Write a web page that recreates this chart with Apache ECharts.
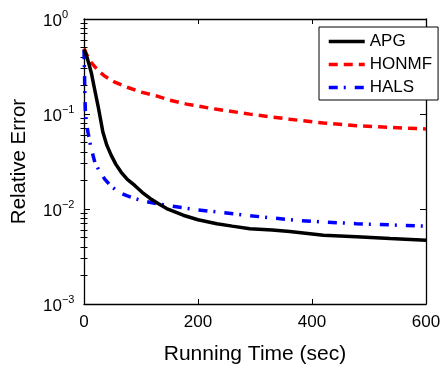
<!DOCTYPE html>
<html>
<head>
<meta charset="utf-8">
<script src="https://cdn.jsdelivr.net/npm/echarts@6/dist/echarts.min.js"></script>
<style>
  html, body { margin: 0; padding: 0; background: #fff; }
  #chart { width: 444px; height: 370px; }
</style>
</head>
<body>
<div id="chart"></div>
<script>
// ---- data ----
const seriesNames = ['APG', 'HONMF', 'HALS'];

const apgTime = [0, 5, 9, 12.8, 18, 24.6, 29, 33, 40, 48, 56, 65, 76, 89, 102, 116, 130, 145, 174, 200, 233, 260, 291, 330, 361, 420, 478, 537, 600];
const apgErr  = [0.48, 0.40, 0.33, 0.272, 0.19, 0.122, 0.088, 0.065, 0.047, 0.0365, 0.0295, 0.0245, 0.0205, 0.0177, 0.0150, 0.0129, 0.0114, 0.0101, 0.0086, 0.0077, 0.0070, 0.0066, 0.0062, 0.0060, 0.0058, 0.0053, 0.0051, 0.0049, 0.0047];

const honmfTime = [0, 5, 12.8, 24, 36, 55, 77, 100, 127, 150, 180, 233, 291, 361, 420, 478, 537, 600];
const honmfErr  = [0.49, 0.42, 0.347, 0.29, 0.251, 0.215, 0.19, 0.17, 0.155, 0.14, 0.127, 0.112, 0.0997, 0.088, 0.0803, 0.0752, 0.0724, 0.0695];

const halsTime = [0, 1, 1.5, 2.5, 4, 7, 12, 19, 27, 36, 47, 60, 75, 89, 105, 127, 150, 174, 200, 233, 291, 373, 420, 478, 537, 600];
const halsErr  = [0.47, 0.25, 0.155, 0.104, 0.082, 0.064, 0.045, 0.031, 0.025, 0.0208, 0.0175, 0.0151, 0.0138, 0.0129, 0.0121, 0.0114, 0.0108, 0.0103, 0.0098, 0.0093, 0.0085, 0.0076, 0.0073, 0.0070, 0.0068, 0.0066];

const xTickValues = [0, 200, 400, 600];
const yTickExponents = ['−3', '−2', '−1', '0'];

const xAxisTitle = 'Running Time (sec)';
const yAxisTitle = 'Relative Error';

// ---- build ----
const zip = (xs, ys) => xs.map((x, i) => [x, ys[i]]);

// log minor tick positions (in exponent space) for decades 10^-3..10^0
const minorTicks = [];
for (let n = -3; n < 0; n++) {
  for (let k = 2; k <= 9; k++) minorTicks.push(n + Math.log10(k));
}

const FONT = '"Liberation Sans", Arial, Helvetica, sans-serif';

const chart = echarts.init(document.getElementById('chart'), null, { renderer: 'canvas' });

const lineCommon = {
  type: 'line',
  symbol: 'none',
  showSymbol: false,
  smooth: false,
  xAxisIndex: 0,
  yAxisIndex: 0,
  animation: false,
  clip: true
};

const option = {
  animation: false,
  backgroundColor: '#ffffff',
  textStyle: { fontFamily: FONT, color: '#000' },
  grid: { left: 84, right: 18, top: 19, bottom: 64, containLabel: false },
  legend: {
    orient: 'vertical',
    left: 319,
    top: 27,
    padding: [6, 6, 4, 8],
    itemWidth: 36,
    itemHeight: 14,
    itemGap: 6,
    backgroundColor: '#fff',
    borderColor: '#000',
    borderWidth: 1,
    borderRadius: 0,
    itemStyle: { opacity: 0 },
    lineStyle: { width: 3.5 },
    textStyle: { fontFamily: FONT, fontSize: 17, color: '#000' },
    data: seriesNames
  },
  xAxis: [
    {
      type: 'value',
      position: 'bottom',
      min: 0, max: 600, interval: 200,
      name: xAxisTitle,
      nameLocation: 'middle',
      nameGap: 40,
      nameTextStyle: { fontFamily: FONT, fontSize: 21, color: '#000' },
      axisLine: { show: true, onZero: false, lineStyle: { color: '#000', width: 1.3 } },
      axisTick: { show: true, inside: true, length: 5, lineStyle: { color: '#000', width: 1 } },
      axisLabel: {
        show: true, margin: 9.5, fontFamily: FONT, fontSize: 17, color: '#000',
        showMinLabel: true, showMaxLabel: true,
        formatter: v => String(xTickValues[xTickValues.indexOf(v)])
      },
      splitLine: { show: false }
    },
    {
      type: 'value',
      position: 'top',
      min: 0, max: 600, interval: 200,
      axisLine: { show: true, onZero: false, lineStyle: { color: '#000', width: 1.3 } },
      axisTick: { show: true, inside: true, length: 5, lineStyle: { color: '#000', width: 1 } },
      axisLabel: { show: false },
      splitLine: { show: false }
    }
  ],
  yAxis: [
    {
      type: 'log',
      logBase: 10,
      position: 'left',
      min: 0.001, max: 1,
      name: yAxisTitle,
      nameLocation: 'middle',
      nameGap: 54,
      nameTextStyle: { fontFamily: FONT, fontSize: 20.5, color: '#000' },
      axisLine: { show: true, onZero: false, lineStyle: { color: '#000', width: 1.3 } },
      axisTick: { show: true, inside: true, length: 6, lineStyle: { color: '#000', width: 1 } },
      axisLabel: {
        show: true,
        margin: 41,
        align: 'left',
        padding: [4, 0, 0, 0],
        formatter: v => {
          const idx = Math.round(Math.log10(v)) + 3;
          return '{b|10}{s|' + yTickExponents[idx] + '}';
        },
        rich: {
          b: { fontFamily: FONT, fontSize: 17, color: '#000', lineHeight: 24 },
          s: { fontFamily: FONT, fontSize: 11, color: '#000', lineHeight: 8, verticalAlign: 'top' }
        }
      },
      splitLine: { show: false }
    },
    {
      type: 'value',
      position: 'left',
      min: -3, max: 0, interval: 1,
      axisLine: { show: false },
      axisTick: { show: true, inside: true, length: 3.5, customValues: minorTicks, lineStyle: { color: '#000', width: 1 } },
      axisLabel: { show: false },
      splitLine: { show: false }
    },
    {
      type: 'log',
      logBase: 10,
      position: 'right',
      min: 0.001, max: 1,
      axisLine: { show: true, onZero: false, lineStyle: { color: '#000', width: 1.3 } },
      axisTick: { show: true, inside: true, length: 6, lineStyle: { color: '#000', width: 1 } },
      axisLabel: { show: false },
      splitLine: { show: false }
    },
    {
      type: 'value',
      position: 'right',
      min: -3, max: 0, interval: 1,
      axisLine: { show: false },
      axisTick: { show: true, inside: true, length: 3.5, customValues: minorTicks, lineStyle: { color: '#000', width: 1 } },
      axisLabel: { show: false },
      splitLine: { show: false }
    }
  ],
  series: [
    Object.assign({}, lineCommon, {
      name: seriesNames[1],
      data: zip(honmfTime, honmfErr),
      itemStyle: { color: '#ff0000' },
      lineStyle: { color: '#ff0000', width: 3.5, type: [9, 6] },
      z: 3
    }),
    Object.assign({}, lineCommon, {
      name: seriesNames[2],
      data: zip(halsTime, halsErr),
      itemStyle: { color: '#0000ff' },
      lineStyle: { color: '#0000ff', width: 3.5, type: [9, 6, 2, 9] },
      z: 4
    }),
    Object.assign({}, lineCommon, {
      name: seriesNames[0],
      data: zip(apgTime, apgErr),
      itemStyle: { color: '#000000' },
      lineStyle: { color: '#000000', width: 3.5, type: 'solid' },
      z: 5
    })
  ]
};

chart.setOption(option);
</script>
</body>
</html>
